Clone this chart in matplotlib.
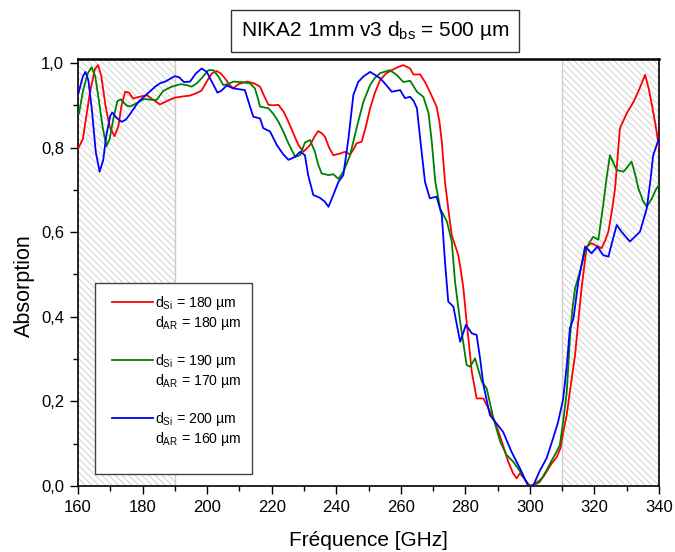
# Absorption curves NIKA2 1mm v3
import matplotlib
matplotlib.use("Agg")
import numpy as np
import matplotlib.pyplot as plt
from matplotlib.legend_handler import HandlerLine2D
from matplotlib.patches import Rectangle
from matplotlib.ticker import MultipleLocator, FuncFormatter

plt.rcParams['font.family'] = ['Liberation Sans', 'DejaVu Sans']
plt.rcParams['mathtext.fontset'] = 'custom'
plt.rcParams['mathtext.rm'] = 'Liberation Sans'
plt.rcParams['mathtext.it'] = 'Liberation Sans'
plt.rcParams['hatch.linewidth'] = 0.6

# Data
freq_red = [160.2, 161.5, 163.7, 165.2, 166.2, 167.2, 168.5, 169.8, 171.3, 172.5, 173.5, 174.6,
            175.8, 177.1, 179.0, 181.3, 183.5, 185.4, 187.5, 190.0, 192.5, 194.7, 196.5, 198.3,
            199.8, 201.4, 203.0, 204.3, 205.5, 207.0, 208.1, 209.7, 212.3, 214.5, 216.4, 217.8,
            219.0, 220.5, 222.1, 223.7, 225.2, 226.8, 228.3, 229.8, 231.9, 233.2, 234.4, 235.5,
            236.5, 237.8, 239.1, 241.2, 242.7, 244.3, 245.3, 246.3, 247.9, 249.2, 250.5, 252.0,
            253.6, 255.4, 257.2, 259.0, 260.8, 262.9, 263.9, 266.0, 267.5, 269.0, 271.1, 272.0,
            272.7, 273.7, 274.8, 275.8, 277.8, 278.6, 279.4, 280.4, 281.2, 282.0, 283.5, 285.6,
            287.1, 289.2, 291.3, 293.3, 294.8, 295.9, 296.9, 298.5, 300.0, 301.5, 302.8, 304.2,
            305.5, 306.8, 308.3, 309.5, 310.4, 311.4, 312.7, 314.0, 315.0, 316.0, 317.6, 319.1,
            320.6, 322.2, 323.3, 324.3, 325.4, 326.4, 327.2, 327.9, 330.0, 332.1, 334.0, 335.7,
            336.8, 337.8, 339.0, 340.0]
abs_red = [0.80, 0.82, 0.93, 0.985, 0.995, 0.97, 0.90, 0.85, 0.827, 0.85, 0.90, 0.932,
           0.93, 0.916, 0.92, 0.924, 0.912, 0.902, 0.91, 0.918, 0.921, 0.923, 0.928, 0.935,
           0.955, 0.975, 0.981, 0.975, 0.964, 0.948, 0.940, 0.950, 0.956, 0.952, 0.944, 0.92,
           0.901, 0.900, 0.901, 0.885, 0.861, 0.832, 0.806, 0.790, 0.806, 0.825, 0.839, 0.834,
           0.826, 0.80, 0.782, 0.786, 0.790, 0.784, 0.795, 0.810, 0.814, 0.85, 0.893, 0.93,
           0.960, 0.975, 0.983, 0.99, 0.995, 0.987, 0.973, 0.973, 0.955, 0.932, 0.897, 0.86,
           0.814, 0.719, 0.65, 0.593, 0.546, 0.51, 0.467, 0.388, 0.33, 0.270, 0.207, 0.207,
           0.184, 0.152, 0.105, 0.057, 0.03, 0.018, 0.03, 0.015, 0.0, 0.005, 0.012, 0.022,
           0.038, 0.054, 0.068, 0.09, 0.13, 0.168, 0.24, 0.31, 0.39, 0.467, 0.566, 0.574,
           0.568, 0.562, 0.58, 0.601, 0.65, 0.704, 0.78, 0.846, 0.881, 0.908, 0.94, 0.972,
           0.94, 0.901, 0.85, 0.80]

freq_green = [160.3, 161.6, 163.0, 164.2, 165.3, 166.5, 167.6, 168.8, 169.8, 171.0, 172.2, 173.3,
              175.0, 176.1, 178.2, 180.5, 182.8, 184.4, 186.4, 189.0, 191.8, 193.5, 195.2, 196.8,
              198.3, 200.4, 202.0, 203.5, 205.0, 206.5, 208.1, 210.5, 213.3, 214.8, 215.6, 216.4,
              219.0, 220.5, 222.1, 223.6, 225.2, 227.3, 228.8, 230.3, 231.9, 233.4, 234.4, 235.5,
              237.6, 239.1, 240.7, 242.2, 244.3, 246.3, 248.4, 250.5, 252.0, 253.6, 256.6, 258.7,
              260.8, 262.9, 265.0, 267.0, 268.6, 269.6, 270.7, 272.2, 274.3, 275.8, 276.8, 278.4,
              280.4, 281.5, 283.0, 285.1, 286.6, 288.7, 290.8, 292.8, 294.9, 297.0, 299.5, 301.0,
              303.1, 305.0, 306.8, 308.2, 309.3, 310.3, 311.4, 312.4, 313.2, 314.0, 315.5, 317.1,
              318.4, 319.6, 321.2, 322.7, 323.8, 324.8, 325.8, 326.9, 329.0, 330.3, 331.5, 332.5,
              333.6, 335.0, 336.2, 337.8, 339.0, 340.0]
abs_green = [0.88, 0.936, 0.975, 0.99, 0.97, 0.91, 0.85, 0.803, 0.82, 0.87, 0.91, 0.914,
             0.90, 0.897, 0.905, 0.915, 0.913, 0.913, 0.934, 0.944, 0.950, 0.948, 0.944, 0.952,
             0.964, 0.983, 0.983, 0.968, 0.948, 0.950, 0.956, 0.955, 0.952, 0.940, 0.92, 0.897,
             0.893, 0.88, 0.861, 0.838, 0.810, 0.778, 0.782, 0.812, 0.818, 0.790, 0.76, 0.739,
             0.735, 0.737, 0.726, 0.743, 0.782, 0.846, 0.908, 0.948, 0.965, 0.976, 0.983, 0.972,
             0.955, 0.958, 0.932, 0.920, 0.881, 0.814, 0.719, 0.656, 0.625, 0.578, 0.483, 0.388,
             0.286, 0.282, 0.302, 0.247, 0.231, 0.160, 0.105, 0.073, 0.057, 0.034, 0.002, 0.0,
             0.01, 0.035, 0.061, 0.08, 0.097, 0.152, 0.22, 0.349, 0.42, 0.467, 0.507, 0.554,
             0.575, 0.589, 0.582, 0.664, 0.73, 0.782, 0.765, 0.747, 0.743, 0.755, 0.767, 0.74,
             0.704, 0.675, 0.660, 0.680, 0.70, 0.712]

freq_blue = [160.2, 161.5, 162.3, 163.2, 164.3, 165.5, 166.7, 167.8, 168.8, 170.0, 170.6, 172.0,
             173.5, 174.8, 176.1, 178.7, 181.3, 183.9, 185.4, 187.0, 190.0, 191.4, 192.8, 194.7,
             196.5, 198.3, 199.9, 201.5, 203.2, 204.5, 206.1, 208.1, 211.7, 213.3, 214.3, 216.4,
             217.4, 219.5, 221.6, 223.5, 225.2, 227.2, 228.8, 230.3, 231.3, 232.9, 235.0, 236.5,
             237.6, 239.1, 240.7, 242.2, 243.8, 245.3, 246.8, 248.4, 250.5, 252.0, 253.6, 255.5,
             257.2, 259.8, 261.3, 262.9, 264.0, 265.0, 266.0, 267.5, 269.0, 271.1, 272.7, 273.7,
             274.7, 276.3, 277.4, 278.4, 280.2, 282.0, 283.5, 284.6, 285.6, 287.6, 289.2, 291.7,
             294.3, 296.9, 299.5, 301.0, 303.0, 305.2, 307.2, 308.7, 310.3, 311.5, 312.4, 313.5,
             315.0, 317.1, 319.1, 320.9, 322.7, 324.3, 325.6, 326.9, 328.4, 331.0, 334.1, 336.2,
             337.3, 338.2, 340.0]
abs_blue = [0.93, 0.968, 0.979, 0.96, 0.89, 0.79, 0.743, 0.77, 0.83, 0.875, 0.883, 0.87,
            0.861, 0.866, 0.879, 0.908, 0.926, 0.944, 0.952, 0.956, 0.969, 0.966, 0.955, 0.956,
            0.975, 0.987, 0.979, 0.955, 0.93, 0.935, 0.947, 0.940, 0.936, 0.897, 0.873, 0.869,
            0.846, 0.838, 0.806, 0.785, 0.771, 0.778, 0.790, 0.782, 0.735, 0.688, 0.681, 0.672,
            0.660, 0.688, 0.719, 0.735, 0.822, 0.924, 0.955, 0.968, 0.979, 0.972, 0.964, 0.948,
            0.932, 0.936, 0.917, 0.920, 0.91, 0.893, 0.822, 0.719, 0.680, 0.684, 0.641, 0.530,
            0.436, 0.424, 0.38, 0.341, 0.381, 0.361, 0.357, 0.30, 0.239, 0.168, 0.152, 0.128,
            0.081, 0.042, 0.0, 0.0, 0.035, 0.066, 0.113, 0.15, 0.205, 0.29, 0.373, 0.396,
            0.483, 0.566, 0.55, 0.566, 0.546, 0.542, 0.58, 0.617, 0.601, 0.578, 0.601, 0.656,
            0.72, 0.782, 0.822]

labels = [r'$\mathregular{d_{Si}}$ = 180 µm' + '\n' + r'$\mathregular{d_{AR}}$ = 180 µm',
          r'$\mathregular{d_{Si}}$ = 190 µm' + '\n' + r'$\mathregular{d_{AR}}$ = 170 µm',
          r'$\mathregular{d_{Si}}$ = 200 µm' + '\n' + r'$\mathregular{d_{AR}}$ = 160 µm']
colors = ['#ff0000', '#008000', '#0000ff']
hatched_bands = [(160, 190), (310, 340)]


class TopLineHandler(HandlerLine2D):
    """Legend line put level with the first line of a two-line label."""

    def create_artists(self, legend, orig_handle, xdescent, ydescent, width, height,
                       fontsize, trans):
        artists = super().create_artists(legend, orig_handle, xdescent, ydescent, width,
                                         height, fontsize, trans)
        for a in artists:
            a.set_ydata(np.asarray(a.get_ydata(), dtype=float) + 0.8 * fontsize)
        return artists


fig = plt.figure(figsize=(6.75, 5.52), dpi=100)
ax = fig.add_axes([78 / 675, 1 - 486 / 552, 581 / 675, 427 / 552])

# Hatched (out of band) zones
for lo, hi in hatched_bands:
    ax.axvspan(lo, hi, facecolor='white', edgecolor='#c8c8c8', hatch='\\' * 5,
               linewidth=0, zorder=0)
ax.axvline(190, color='#cccccc', lw=1, zorder=1)
ax.axvline(310, color='#cccccc', lw=1, zorder=1)

series = [(freq_red, abs_red), (freq_green, abs_green), (freq_blue, abs_blue)]
lines = []
for (f, a), c, lab in zip(series, colors, labels):
    ln, = ax.plot(f, a, color=c, lw=1.3, label=lab, zorder=3)
    lines.append(ln)

ax.set_xlim(160, 340)
ax.set_ylim(0, 1.0 + 4 / 423)
ax.xaxis.set_major_locator(MultipleLocator(20))
ax.xaxis.set_minor_locator(MultipleLocator(10))
ax.yaxis.set_major_locator(MultipleLocator(0.2))
ax.yaxis.set_minor_locator(MultipleLocator(0.1))
ax.yaxis.set_major_formatter(FuncFormatter(lambda v, p: f'{v:.1f}'.replace('.', ',')))
ax.tick_params(which='major', direction='out', length=6, width=1, labelsize=12,
               top=False, right=False, pad=4)
ax.tick_params(which='minor', direction='out', length=3.5, width=1, top=False, right=False)
for s in ax.spines.values():
    s.set_linewidth(1.2)
ax.spines['top'].set_linewidth(1.8)

ax.set_xlabel('Fréquence [GHz]', fontsize=15, labelpad=11.5)
ax.set_ylabel('Absorption', fontsize=15.5, labelpad=4)
ax.yaxis.label.set_y(0.47)

# legend frame (taller than the entries, as in the original)
ax.add_patch(Rectangle((0.0293, 0.0281), 0.270, 0.447, transform=ax.transAxes,
                       facecolor='white', edgecolor='#444444', lw=1.0, zorder=4))
leg = ax.legend(handles=lines, loc='upper left', bbox_to_anchor=(0.029, 0.475),
                borderaxespad=0, frameon=False,
                fontsize=10.2, handlelength=3.35, handletextpad=0.15, labelspacing=1.36,
                borderpad=0.75,
                handler_map={ln: TopLineHandler(xpad=0.48) for ln in lines})
leg.set_zorder(5)

fig.text(375 / 675, 1 - 31 / 552, r'NIKA2 1mm v3 $\mathregular{d_{bs}}$ = 500 µm',
         fontsize=15, ha='center', va='center',
         bbox=dict(boxstyle='square,pad=0.45', facecolor='white', edgecolor='#333333', lw=1))

fig.savefig('out.png', dpi=100)
